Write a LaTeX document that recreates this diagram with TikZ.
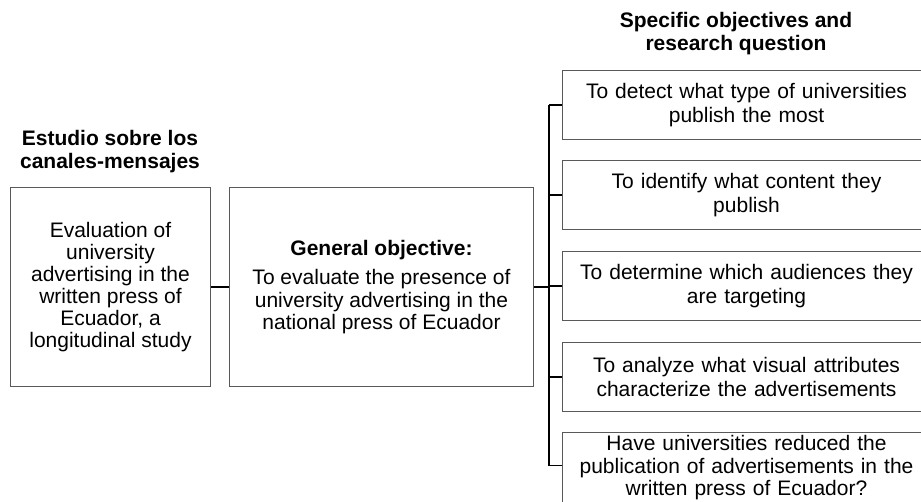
\documentclass[tikz,border=0pt]{standalone}
\usepackage{fontspec}
\setmainfont{Liberation Sans}
\begin{document}
\begin{tikzpicture}[x=1pt,y=-1pt,
  box/.style={draw=black!65, line width=1pt, align=center, inner sep=0pt,
    font=\fontsize{21}{22.5}\selectfont},
  objbox/.style={box, font=\fontsize{21}{24.5}\selectfont, minimum width=368, minimum height=69, anchor=north west, text width=356},
  head/.style={align=center, inner sep=0pt, font=\fontsize{21}{23}\selectfont\bfseries},
  conn/.style={draw=black, line width=1.8pt}]
\useasboundingbox (0,0) rectangle (921,501);
\clip (0,0) rectangle (921,501);

\node[head] (ha) at (110,152) {Estudio sobre los\\canales-mensajes};
\node[head] (hs) at (736,34) {Specific objectives and\\research question};

\node[box, font=\fontsize{21}{22}\selectfont, minimum width=200, minimum height=199, anchor=north west] (a) at (10,187)
  {Evaluation of\\university\\advertising in the\\written press of\\Ecuador, a\\longitudinal study};
\node[box, minimum width=304, minimum height=199, anchor=north west] (b) at (229,187)
  {\textbf{General objective:}\\[7pt]To evaluate the presence of\\university advertising in the\\national press of Ecuador};

\node[objbox] (s1) at (562,70) {To detect what type of universities\\publish the most};
\node[objbox] (s2) at (562,160) {To identify what content they\\publish};
\node[objbox] (s3) at (562,251) {To determine which audiences they\\are targeting};
\node[objbox] (s4) at (562,342) {To analyze what visual attributes\\characterize the advertisements};
\node[objbox, font=\fontsize{21}{22.5}\selectfont, minimum height=71] (s5) at (562,432) {Have universities reduced the\\publication of advertisements in the\\written press of Ecuador?};

\coordinate (bt) at (549,0);
\coordinate (t5) at ([yshift=-33.5pt]s5.north west);
\draw[conn] (a.east) -- (b.west);
\draw[conn] (b.east) -- (b.east -| bt);
\draw[conn] (s1.west -| bt) -- (t5 -| bt) -- (t5);
\foreach \s in {s1,s2,s3,s4}
  \draw[conn] (\s.west -| bt) -- (\s.west);
\end{tikzpicture}
\end{document}
